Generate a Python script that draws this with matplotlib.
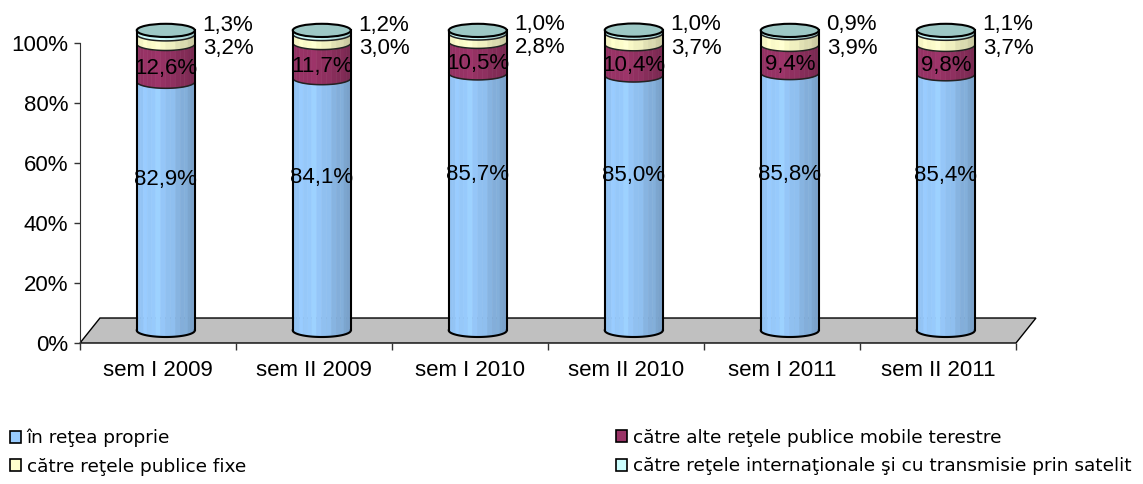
import matplotlib
matplotlib.use('Agg')
import matplotlib.pyplot as plt
import numpy as np
from matplotlib.patches import Polygon, Ellipse
from matplotlib.colors import to_rgb
from matplotlib.patches import Patch

# ---------------- data ----------------
categories = ['sem I 2009', 'sem II 2009', 'sem I 2010', 'sem II 2010', 'sem I 2011', 'sem II 2011']
in_retea = [82.9, 84.1, 85.7, 85.0, 85.8, 85.4]
mobile = [12.6, 11.7, 10.5, 10.4, 9.4, 9.8]
fixe = [3.2, 3.0, 2.8, 3.7, 3.9, 3.7]
intl = [1.3, 1.2, 1.0, 1.0, 0.9, 1.1]
series_names = ['în reţea proprie',
                'către alte reţele publice mobile terestre',
                'către reţele publice fixe',
                'către reţele internaţionale şi cu transmisie prin satelit']
series_colors = ['#99CCFF', '#993366', '#FFFFCC', '#CCFFFF']
y_ticks = [0, 20, 40, 60, 80, 100]

# ---------------- style / geometry ----------------
W, H = 1143, 484
fig = plt.figure(figsize=(W / 100, H / 100), dpi=100)
ax = fig.add_axes([80 / W, (H - 343) / H, 936 / W, 300 / H])
ax.set_xlim(-0.5, len(categories) - 0.5)
ax.set_ylim(0, 100)

LAB_FONT = ['Liberation Sans', 'DejaVu Sans']
depth_dx, depth_dy = 0.128, 8.33     # back edge of the floor
cx_off, a, b, base = 0.05, 0.186, 2.2, 4.2   # cylinder placement

# floor
n = len(categories)
floor = Polygon([(-0.5, 0), (n - 0.5, 0), (n - 0.5 + depth_dx, depth_dy),
                 (-0.5 + depth_dx, depth_dy)], closed=True,
                facecolor='#C0C0C0', edgecolor='black', lw=1.0, zorder=1, clip_on=False)
ax.add_patch(floor)


def shade(u):
    if u < -0.25:
        return 1.0 - 0.05 * (-0.25 - u) / 0.75
    return 1.0 - 0.22 * (u + 0.25) / 1.25


def draw_cylinder(cx, values, colors):
    th_edges = np.linspace(np.pi, 0, 19)
    cum = base
    for v, col in zip(values, colors):
        y0, y1 = cum, cum + v
        rgb = np.array(to_rgb(col))
        for k, (t0, t1) in enumerate(zip(th_edges[:-1], th_edges[1:])):
            ts = np.linspace(t0, t1, 4)
            xs = cx + a * np.cos(ts)
            bot = np.column_stack([xs, y0 - b * np.sin(ts)])
            top = np.column_stack([xs[::-1], y1 - b * np.sin(ts[::-1])])
            u = np.cos((t0 + t1) / 2)
            f = shade(u) * (1.03 if k % 3 == 1 else 1.0)
            c = np.clip(rgb * f, 0, 1)
            ax.add_patch(Polygon(np.vstack([bot, top]), closed=True, facecolor=c,
                                 edgecolor=c, lw=0.4, zorder=3, clip_on=False))
        cum = y1
    # outlines
    ts = np.linspace(np.pi, 0, 80)
    ax.plot(cx + a * np.cos(ts), base - b * np.sin(ts), color='black', lw=1.5, zorder=4, clip_on=False)
    cum = base
    for v in values[:-1]:
        cum += v
        ax.plot(cx + a * np.cos(ts), cum - b * np.sin(ts), color='#222222', lw=1.1, zorder=4, clip_on=False)
    top_y = base + sum(values)
    ax.plot([cx - a, cx - a], [base, top_y], color='black', lw=1.5, zorder=4, clip_on=False)
    ax.plot([cx + a, cx + a], [base, top_y], color='black', lw=1.5, zorder=4, clip_on=False)
    ax.add_patch(Ellipse((cx, top_y), 2 * a, 2 * b, facecolor='#9DC8C5', edgecolor='black',
                         lw=1.5, zorder=5, clip_on=False))


def fmt(v):
    return f'{v:.1f}'.replace('.', ',') + '%'


for i in range(n):
    vals = [in_retea[i], mobile[i], fixe[i], intl[i]]
    cx = i + cx_off
    draw_cylinder(cx, vals, series_colors)
    # labels inside
    ax.text(cx, base + in_retea[i] / 2 + 9, fmt(in_retea[i]), ha='center', va='center',
            fontsize=16, family=LAB_FONT, zorder=6)
    ax.text(cx, base + in_retea[i] + mobile[i] / 2 - 2, fmt(mobile[i]), ha='center', va='center',
            fontsize=16, family=LAB_FONT, zorder=6)
    # labels outside
    c3 = base + in_retea[i] + mobile[i] + fixe[i] / 2
    c4 = base + in_retea[i] + mobile[i] + fixe[i] + intl[i] / 2
    ax.text(cx + a + 0.05, c3 - 3.2, fmt(fixe[i]), ha='left', va='center',
            fontsize=16, family=LAB_FONT, zorder=6, clip_on=False)
    ax.text(cx + a + 0.05, c4 + 2.4, fmt(intl[i]), ha='left', va='center',
            fontsize=16, family=LAB_FONT, zorder=6, clip_on=False)

# axes styling
for s in ['top', 'right']:
    ax.spines[s].set_visible(False)
ax.spines['left'].set_color('#333333')
ax.spines['bottom'].set_visible(False)
ax.set_yticks(y_ticks)
ax.set_yticklabels([f'{t}%' for t in y_ticks], fontsize=16, family=LAB_FONT)
ax.tick_params(axis='y', length=4, width=1, color='#333333', pad=4.5)
ax.set_xticks(range(n))
ax.set_xticklabels(categories, fontsize=16, family=LAB_FONT)
ax.set_xticks(np.arange(-0.5, n, 1.0), minor=True)
ax.tick_params(axis='x', which='major', length=0, pad=12)
ax.tick_params(axis='x', which='minor', length=5, width=1, color='#333333')
ax.set_facecolor('none')

# legend
fs = 13.3
handles = [Patch(facecolor=c, edgecolor='black', lw=1.2) for c in series_colors]
common = dict(loc='upper left', frameon=False, handlelength=0.62, handleheight=0.62,
              handletextpad=0.28, labelspacing=0.55, borderpad=0.2,
              prop={'family': 'DejaVu Sans', 'size': fs})
fig.legend([handles[0], handles[2]], [series_names[0], series_names[2]],
           bbox_to_anchor=(-3 / W, 1 - 416 / H), **common)
fig.legend([handles[1], handles[3]], [series_names[1], series_names[3]],
           bbox_to_anchor=(603 / W, 1 - 416 / H), **common)

fig.savefig('out.png', dpi=100)
